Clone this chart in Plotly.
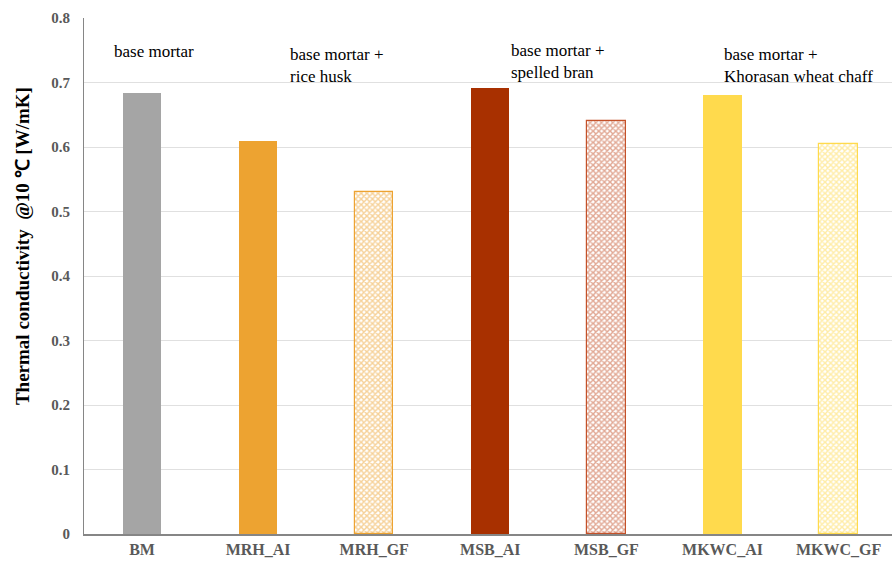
import plotly.graph_objects as go

categories = ["BM", "MRH_AI", "MRH_GF", "MSB_AI", "MSB_GF", "MKWC_AI", "MKWC_GF"]
values = [0.683, 0.609, 0.531, 0.691, 0.641, 0.680, 0.604]
colors = ["#A5A5A5", "#EDA331", "#EDA331", "#A83000", "#C4522A", "#FFDA4D", "#FFDA4D"]
patterned = [False, False, True, False, True, False, True]
y_ticks = [0, 0.1, 0.2, 0.3, 0.4, 0.5, 0.6, 0.7, 0.8]
y_ticktext = ["0", "0.1", "0.2", "0.3", "0.4", "0.5", "0.6", "0.7", "0.8"]
group_labels = ["base mortar", "base mortar +<br>rice husk", "base mortar +<br>spelled bran",
                "base mortar +<br>Khorasan wheat chaff"]
group_x = [-0.259, 1.258, 3.162, 4.998]
group_y = [0.748, 0.727, 0.733, 0.727]
y_title = "Thermal conductivity  @10 ℃ [W/mK]"

SERIF = "Liberation Serif, Times New Roman, serif"

fig = go.Figure()
for c, v, col, p in zip(categories, values, colors, patterned):
    if p:
        marker = dict(color="white", line=dict(color=col, width=1.2),
                      pattern=dict(shape="x", fgcolor=col, bgcolor="white", size=4, solidity=0.6))
    else:
        marker = dict(color=col, line=dict(width=0))
    fig.add_trace(go.Bar(x=[c], y=[v], marker=marker, width=0.33, showlegend=False))

for t, x, y in zip(group_labels, group_x, group_y):
    fig.add_annotation(x=x, y=y, xref="x", yref="y", text=t, showarrow=False,
                       xanchor="left", yanchor="middle", align="left",
                       font=dict(family=SERIF, size=17, color="black"))

fig.add_annotation(x=-62 / 808, y=0.558, xref="paper", yref="paper", text=y_title,
                   showarrow=False, textangle=-90, xanchor="center", yanchor="middle",
                   font=dict(family=SERIF, size=19, color="black", weight="bold"))

fig.update_layout(
    width=892, height=564,
    margin=dict(l=84, r=0, t=18, b=30, autoexpand=False),
    plot_bgcolor="white", paper_bgcolor="white",
    bargap=0,
    xaxis=dict(categoryorder="array", categoryarray=categories, range=[-0.5, 6.46],
               showline=True, linecolor="#868686", linewidth=1.5, showgrid=False,
               ticks="", automargin=False,
               tickfont=dict(family=SERIF, size=16, color="#595959", weight="bold")),
    yaxis=dict(range=[0, 0.8], tickvals=y_ticks, ticktext=y_ticktext, automargin=False,
               showline=True, linecolor="#868686", linewidth=1, showgrid=True,
               gridcolor="#E0E0E0", gridwidth=1, zeroline=False, ticks="",
               ticklabelstandoff=10,
               tickfont=dict(family=SERIF, size=15, color="#595959", weight="bold")),
    font=dict(family=SERIF),
)
fig.write_html("out.html", config={"displayModeBar": False},
               post_script="document.body.style.margin='0px';document.body.style.overflow='hidden';")
